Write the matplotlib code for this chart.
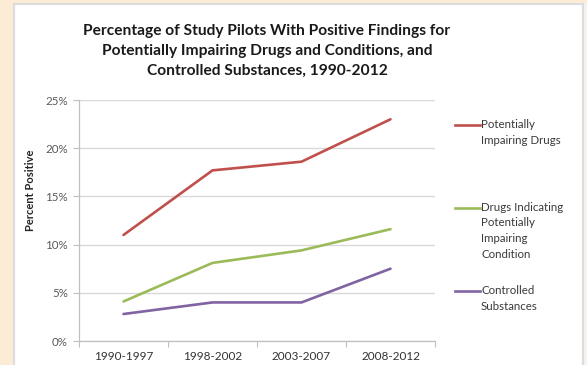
import numpy as np
import matplotlib
matplotlib.use('Agg')
import matplotlib.pyplot as plt
from matplotlib.patches import Rectangle
from matplotlib.lines import Line2D

plt.rcParams['font.family'] = ['Lato', 'DejaVu Sans']

periods = ['1990-1997', '1998-2002', '2003-2007', '2008-2012']
impairing_drugs = [11.0, 17.7, 18.6, 23.0]
impairing_condition = [4.1, 8.1, 9.4, 11.6]
controlled = [2.8, 4.0, 4.0, 7.5]

series_names = ['Potentially\nImpairing Drugs',
                'Drugs Indicating\nPotentially\nImpairing\nCondition',
                'Controlled\nSubstances']
series_colors = ['#C0504D', '#9BBB59', '#8064A2']

W, H = 587, 365
fig = plt.figure(figsize=(W / 100, H / 100), dpi=100)
fig.patch.set_facecolor('#fcecd6')

# pale strip on the right edge and the white chart card with light grey border
fig.add_artist(Rectangle((583 / W, 0), 4 / W, 1 - 4 / H, transform=fig.transFigure,
                         facecolor='#f7f3ee', edgecolor='none', zorder=0))
card = Rectangle((14 / W, -0.05), 569 / W, 1.05 - 4 / H, transform=fig.transFigure,
                 facecolor='white', edgecolor='#dcdcdc', linewidth=1.6, zorder=0)
fig.add_artist(card)

ax = fig.add_axes([79 / W, 1 - 341 / H, 356 / W, 241 / H])
ax.set_facecolor('none')

x = np.arange(len(periods))
for vals, c in zip([impairing_drugs, impairing_condition, controlled], series_colors):
    ax.plot(x, vals, color=c, linewidth=1.9, solid_capstyle='round', zorder=3)

ax.set_xlim(-0.5, len(periods) - 0.5)
ax.set_ylim(0, 25)
ax.set_yticks(np.arange(0, 26, 5))
ax.set_yticklabels([f'{v}%' for v in range(0, 26, 5)])
ax.set_xticks(x)
ax.set_xticklabels(periods)
ax.set_xticks(np.arange(-0.5, len(periods), 1), minor=True)
ax.tick_params(axis='x', which='major', length=0, pad=7, labelsize=8.5, labelcolor='#333333')
ax.tick_params(axis='x', which='minor', length=4, color='#bfbfbf', width=0.8)
ax.tick_params(axis='y', length=4, color='#bfbfbf', width=0.8, pad=4,
               labelsize=8.3, labelcolor='#595959')

ax.grid(axis='y', color='#d9d9d9', linewidth=1.0, zorder=1)
for s in ['top', 'right']:
    ax.spines[s].set_visible(False)
for s in ['left', 'bottom']:
    ax.spines[s].set_color('#c0c0c0')
    ax.spines[s].set_linewidth(0.9)

fig.text(30 / W, 1 - 190 / H, 'Percent Positive', rotation=90, ha='center', va='center',
         fontsize=8, fontweight='bold', color='#262626')

fig.text(267 / W, 1 - 51 / H,
         'Percentage of Study Pilots With Positive Findings for\n'
         'Potentially Impairing Drugs and Conditions, and\n'
         'Controlled Substances, 1990-2012',
         ha='center', va='center', fontsize=11.2, fontweight='bold',
         color='#1a1a1a', linespacing=1.55)

# legend keys: swatch aligned with the first line of each label
for name, c, ytop in zip(series_names, series_colors, [125, 207.5, 291]):
    fy = 1 - ytop / H
    fig.add_artist(Line2D([455 / W, 480 / W], [fy, fy], transform=fig.transFigure,
                          color=c, linewidth=1.9))
    fig.text(481 / W, fy + 6 / H, name, ha='left', va='top', fontsize=8.3,
             color='#3a3a3a', linespacing=1.55)

fig.savefig('out.png', dpi=100, facecolor=fig.get_facecolor())
